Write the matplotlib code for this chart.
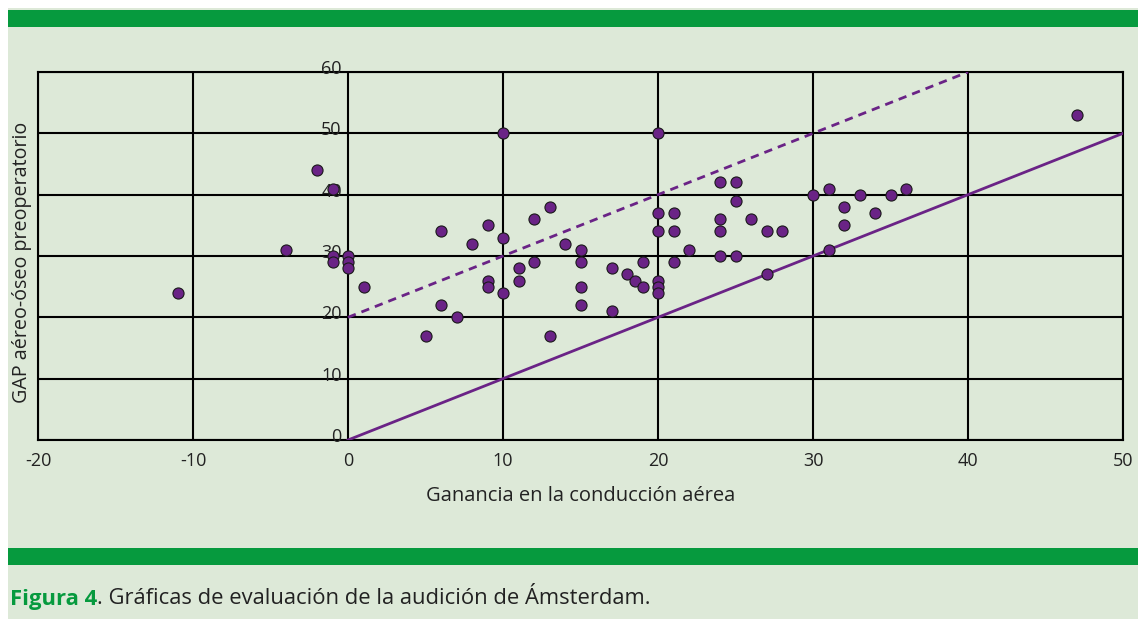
import matplotlib
matplotlib.use("Agg")
import matplotlib.pyplot as plt
from matplotlib.patches import Rectangle

# Datos (ganancia en conduccion aerea, GAP preoperatorio)
ganancia = [-11, -4, -2, -1, -1, -1, 0, 0, 0, 1,
            5, 6, 6, 7, 8, 9, 9, 9, 10, 10, 10,
            11, 11, 12, 12, 13, 13, 14, 15, 15, 15, 15,
            17, 17, 18, 18.5, 19, 19, 20, 20, 20, 20, 20, 20,
            21, 21, 21, 22, 24, 24, 24, 24, 25, 25, 25, 26,
            27, 27, 28, 30, 31, 31, 32, 32, 33, 34, 35, 36, 47]
gap = [24, 31, 44, 41, 30, 29, 30, 29, 28, 25,
       17, 34, 22, 20, 32, 35, 26, 25, 50, 33, 24,
       28, 26, 36, 29, 38, 17, 32, 31, 29, 25, 22,
       28, 21, 27, 26, 25, 29, 50, 37, 34, 26, 25, 24,
       37, 34, 29, 31, 42, 36, 34, 30, 42, 39, 30, 36,
       34, 27, 34, 40, 41, 31, 38, 35, 40, 37, 40, 41, 53]

xticks = [-20, -10, 0, 10, 20, 30, 40, 50]
yticks = [0, 10, 20, 30, 40, 50, 60]

# lineas de referencia
linea_x = [0, 50]
linea_y = [0, 50]
guion_x = [0, 40]
guion_y = [20, 60]

fondo = "#dde9d8"
verde = "#069a3e"
morado = "#6a2386"

fig = plt.figure(figsize=(11.38, 6.19), dpi=100)
fig.patch.set_facecolor("white")
fig.patches.append(Rectangle((8 / 1138, 0), 1, 1 - 8 / 619, transform=fig.transFigure,
                             facecolor=fondo, edgecolor="none", zorder=0))
fig.patches.append(Rectangle((8 / 1138, 1 - 27 / 619), 1, 17 / 619, transform=fig.transFigure,
                             facecolor=verde, edgecolor="none", zorder=1))
fig.patches.append(Rectangle((8 / 1138, 1 - 565 / 619), 1, 17 / 619, transform=fig.transFigure,
                             facecolor=verde, edgecolor="none", zorder=1))

ax = fig.add_axes([38 / 1138, 1 - 440 / 619, (1123 - 38) / 1138, (440 - 72) / 619])
ax.set_zorder(5)
ax.set_facecolor(fondo)
ax.set_xlim(-20, 50)
ax.set_ylim(0, 60)
ax.set_xticks(xticks)
ax.set_yticks(yticks)
ax.grid(True, color="black", linewidth=1.5)
ax.set_axisbelow(True)
for s in ax.spines.values():
    s.set_linewidth(1.5)
ax.tick_params(length=0, labelsize=13, pad=9, colors="#222222")
ax.set_yticklabels([])
ax.set_xticklabels([str(t) for t in xticks], fontfamily="Open Sans")

# etiquetas del eje y sobre x = 0
for v in yticks:
    ax.text(-0.4, v + 0.5, str(v), ha="right", va="center", fontsize=13,
            fontfamily="Open Sans", color="#222222", clip_on=False)

ax.plot(linea_x, linea_y, color=morado, linewidth=2.0, zorder=3)
ax.plot(guion_x, guion_y, color=morado, linewidth=2.0, linestyle=(0, (3, 2.2)), zorder=3)
ax.scatter(ganancia, gap, s=64, color=morado, edgecolor="#1a1a1a", linewidth=0.8, zorder=4)

ax.set_xlabel("Ganancia en la conducción aérea", fontsize=14.5, fontfamily="Open Sans",
              color="#222222", labelpad=11)
ax.set_ylabel("GAP aéreo-óseo preoperatorio", fontsize=14.2, fontfamily="Open Sans",
              color="#222222", va="center")
ax.yaxis.set_label_coords(-16 / 1085, 0.484)

# pie de figura
t1 = fig.text(10 / 1138, 1 - 599 / 619, "Figura 4", fontsize=15.8, fontweight="bold",
              color=verde, fontfamily="Open Sans", va="center")
fig.canvas.draw()
bb = t1.get_window_extent()
fig.text(bb.x1 / fig.bbox.width, 1 - 599 / 619, ". Gráficas de evaluación de la audición de Ámsterdam.",
         fontsize=15.8, color="#222222", fontfamily="Open Sans", va="center")

plt.savefig("out.png", dpi=100, facecolor=fig.get_facecolor())
